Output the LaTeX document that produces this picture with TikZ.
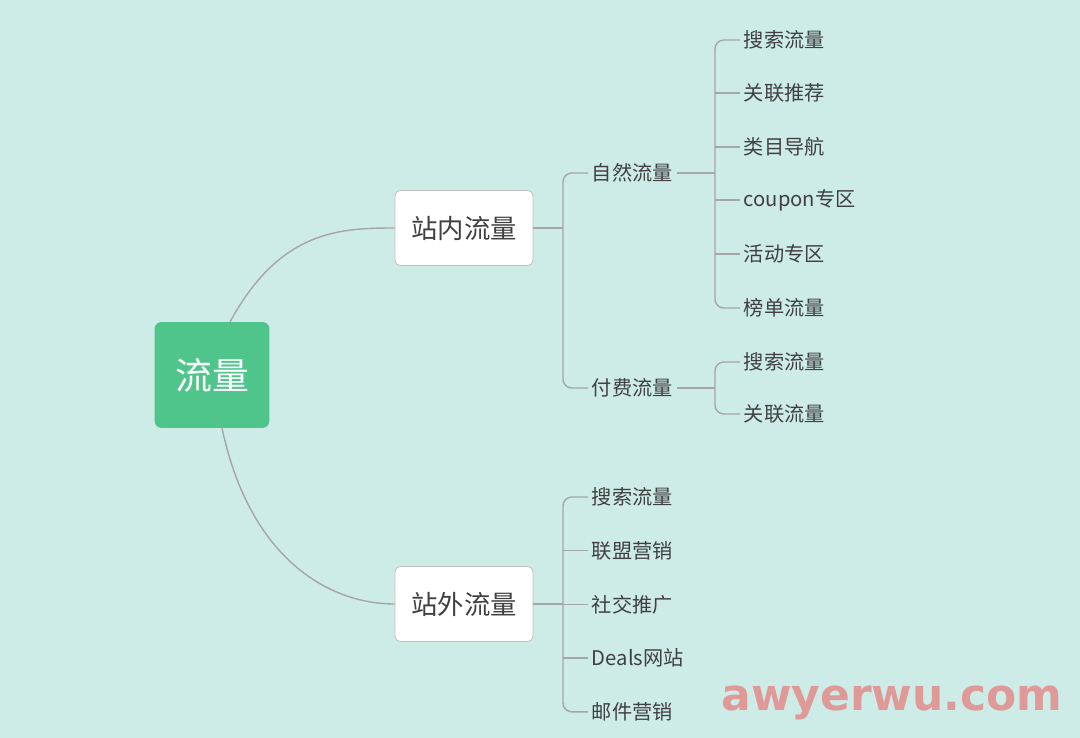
\documentclass[tikz,border=0pt]{standalone}
\usepackage{fontspec}
\setmainfont{Noto Sans CJK SC}
\setsansfont{DejaVu Sans}
\begin{document}
\begin{tikzpicture}[x=0.02cm,y=-0.02cm]
  \tikzstyle{branch}=[draw=gray!70, line width=0.8pt]
  \tikzstyle{topic}=[rectangle, draw=gray!50, fill=white, rounded corners=3pt, minimum width=2.76cm, minimum height=1.5cm, font=\fontsize{15}{18}\selectfont, text=black!75]
  \tikzstyle{leaf}=[anchor=west, inner sep=2pt, font=\fontsize{11.5}{14}\selectfont, text=black!75]
  \definecolor{bg}{HTML}{CDEBE7}
  \definecolor{rootgreen}{HTML}{4FC58B}
  \useasboundingbox (0,0) rectangle (1080,738);
  \fill[bg] (0,0) rectangle (1080,738);
  \node[rectangle, fill=rootgreen, rounded corners=4pt, minimum width=2.3cm, minimum height=2.12cm, text=white, font=\fontsize{21}{25}\selectfont] (root) at (212,375) {流量};
  \node[topic] (in) at (464,228) {站内流量};
  \node[topic] (out) at (464,604) {站外流量};
  \draw[branch] (230,322) .. controls (280,230) and (340,228) .. (in.west);
  \draw[branch] (222,428) .. controls (250,560) and (330,604) .. (out.west);
  % second level
  \node[leaf] (nat) at (588,173) {自然流量};
  \node[leaf] (paid) at (588,388) {付费流量};
  \draw[branch] (in.east) -- (563,228);
  \draw[branch, rounded corners=5pt] (nat.west) -| (563,228) |- (paid.west);
  % outside
  \foreach \t [count=\i] in {搜索流量, 联盟营销, 社交推广, Deals网站, 邮件营销}
    \node[leaf] (o\i) at (588,{497+53.7*(\i-1)}) {\t};
  \draw[branch] (out.east) -- (out.east -| 563,0);
  \draw[branch, rounded corners=5pt] (o1.west) -| (563,604) |- (o5.west);
  \foreach \i in {2,3,4}
    \draw[branch] (o\i.west) -- (o\i.west -| 563,0);
  % natural children
  \foreach \t/\y [count=\i] in {搜索流量/40, 关联推荐/93, 类目导航/147, coupon专区/200, 活动专区/254, 榜单流量/308}
    \node[leaf] (a\i) at (740,\y) {\t};
  \draw[branch] (nat.east) -- (nat.east -| 715,0);
  \draw[branch, rounded corners=5pt] (a1.west) -| (715,170) |- (a6.west);
  \foreach \i in {2,...,5}
    \draw[branch] (a\i.west) -- (a\i.west -| 715,0);
  % paid children
  \node[leaf] (b1) at (740,362) {搜索流量};
  \node[leaf] (b2) at (740,414) {关联流量};
  \draw[branch] (paid.east) -- (paid.east -| 715,0);
  \draw[branch, rounded corners=5pt] (b1.west) -| (715,388) |- (b2.west);
  \node[text=red!35!bg, font=\fontsize{25}{30}\selectfont\sffamily\bfseries] (mark) at (892,703) {awyerwu.com};
\end{tikzpicture}
\end{document}
